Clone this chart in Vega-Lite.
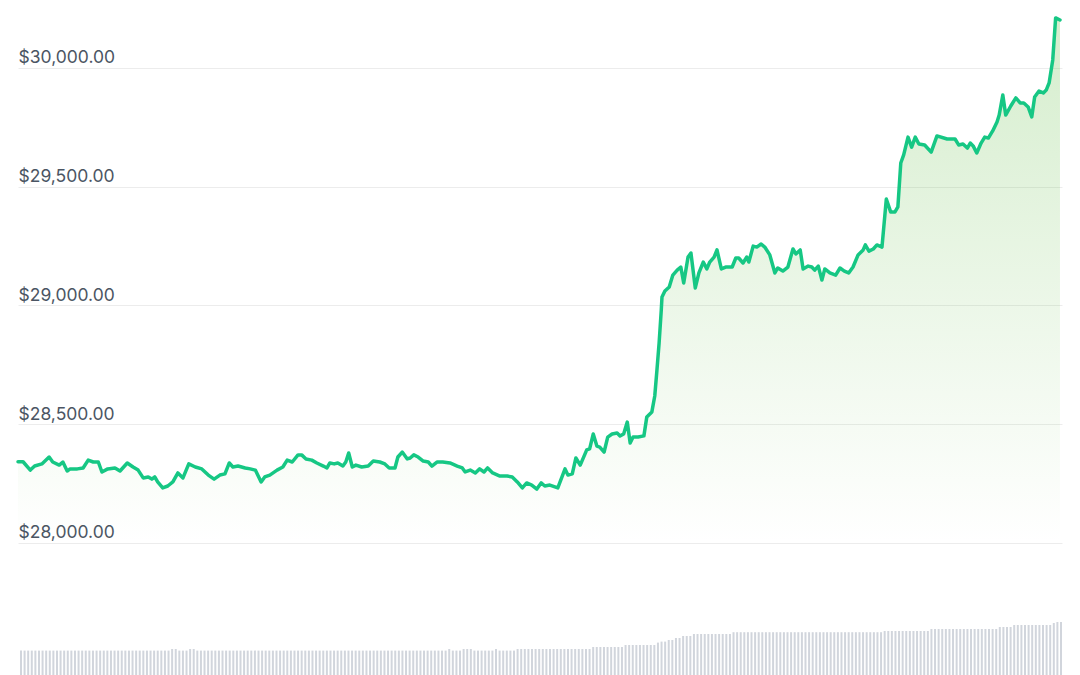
{
"$schema": "https://vega.github.io/schema/vega-lite/v6.json",
"width": 1044, "height": 675,
"autosize": {"type": "none"},
"padding": {"left": 18, "right": 18, "top": 0, "bottom": 0},
"background": "white",
"config": {"view": {"stroke": null}},
"datasets": {
"price": [
{"t":0,"p":28342},{"t":7,"p":28342},{"t":17,"p":28307},{"t":23,"p":28324},{"t":33,"p":28333},{"t":43,"p":28362},{"t":48,"p":28341},{"t":57,"p":28328},{"t":62,"p":28341},{"t":68,"p":28303},{"t":72,"p":28312},{"t":82,"p":28312},{"t":90,"p":28316},{"t":97,"p":28349},{"t":104,"p":28341},{"t":111,"p":28341},{"t":116,"p":28299},{"t":124,"p":28312},{"t":134,"p":28316},{"t":141,"p":28303},{"t":151,"p":28337},{"t":159,"p":28320},{"t":166,"p":28307},{"t":173,"p":28274},{"t":180,"p":28278},{"t":185,"p":28269},{"t":189,"p":28278},{"t":193,"p":28257},{"t":200,"p":28232},{"t":207,"p":28240},{"t":214,"p":28257},{"t":221,"p":28295},{"t":228,"p":28274},{"t":236,"p":28333},{"t":245,"p":28320},{"t":254,"p":28312},{"t":263,"p":28286},{"t":271,"p":28269},{"t":279,"p":28286},{"t":286,"p":28291},{"t":292,"p":28337},{"t":297,"p":28320},{"t":304,"p":28324},{"t":314,"p":28316},{"t":321,"p":28312},{"t":328,"p":28307},{"t":336,"p":28257},{"t":341,"p":28278},{"t":348,"p":28286},{"t":358,"p":28307},{"t":366,"p":28320},{"t":372,"p":28349},{"t":379,"p":28341},{"t":387,"p":28371},{"t":392,"p":28371},{"t":398,"p":28354},{"t":406,"p":28349},{"t":413,"p":28337},{"t":422,"p":28324},{"t":427,"p":28316},{"t":431,"p":28337},{"t":437,"p":28333},{"t":442,"p":28337},{"t":449,"p":28324},{"t":453,"p":28341},{"t":457,"p":28379},{"t":462,"p":28320},{"t":467,"p":28328},{"t":475,"p":28320},{"t":484,"p":28324},{"t":491,"p":28345},{"t":500,"p":28341},{"t":507,"p":28333},{"t":513,"p":28316},{"t":521,"p":28316},{"t":525,"p":28362},{"t":531,"p":28383},{"t":538,"p":28354},{"t":542,"p":28358},{"t":547,"p":28371},{"t":553,"p":28362},{"t":560,"p":28345},{"t":567,"p":28341},{"t":572,"p":28324},{"t":579,"p":28341},{"t":587,"p":28341},{"t":597,"p":28337},{"t":607,"p":28324},{"t":614,"p":28316},{"t":618,"p":28299},{"t":625,"p":28307},{"t":632,"p":28295},{"t":638,"p":28312},{"t":644,"p":28299},{"t":649,"p":28316},{"t":656,"p":28295},{"t":666,"p":28282},{"t":676,"p":28282},{"t":683,"p":28278},{"t":690,"p":28257},{"t":697,"p":28232},{"t":703,"p":28253},{"t":710,"p":28244},{"t":717,"p":28227},{"t":723,"p":28253},{"t":728,"p":28240},{"t":735,"p":28244},{"t":746,"p":28232},{"t":756,"p":28312},{"t":760,"p":28286},{"t":766,"p":28291},{"t":771,"p":28358},{"t":777,"p":28328},{"t":786,"p":28392},{"t":790,"p":28396},{"t":795,"p":28459},{"t":800,"p":28408},{"t":804,"p":28404},{"t":810,"p":28383},{"t":815,"p":28446},{"t":821,"p":28459},{"t":828,"p":28463},{"t":832,"p":28451},{"t":837,"p":28459},{"t":842,"p":28509},{"t":846,"p":28421},{"t":850,"p":28446},{"t":857,"p":28446},{"t":865,"p":28451},{"t":869,"p":28531},{"t":876,"p":28552},{"t":880,"p":28619},{"t":883,"p":28728},{"t":886,"p":28842},{"t":889,"p":28981},{"t":890,"p":29036},{"t":894,"p":29061},{"t":900,"p":29078},{"t":905,"p":29128},{"t":911,"p":29149},{"t":916,"p":29162},{"t":920,"p":29095},{"t":926,"p":29204},{"t":930,"p":29221},{"t":936,"p":29074},{"t":941,"p":29137},{"t":947,"p":29183},{"t":952,"p":29154},{"t":956,"p":29183},{"t":962,"p":29204},{"t":966,"p":29234},{"t":972,"p":29154},{"t":978,"p":29162},{"t":987,"p":29162},{"t":992,"p":29200},{"t":996,"p":29200},{"t":1002,"p":29179},{"t":1007,"p":29204},{"t":1010,"p":29183},{"t":1016,"p":29250},{"t":1021,"p":29246},{"t":1027,"p":29259},{"t":1032,"p":29246},{"t":1039,"p":29213},{"t":1046,"p":29137},{"t":1050,"p":29158},{"t":1057,"p":29145},{"t":1064,"p":29162},{"t":1071,"p":29238},{"t":1075,"p":29217},{"t":1081,"p":29234},{"t":1085,"p":29154},{"t":1092,"p":29166},{"t":1097,"p":29162},{"t":1101,"p":29149},{"t":1106,"p":29166},{"t":1111,"p":29107},{"t":1115,"p":29154},{"t":1122,"p":29137},{"t":1130,"p":29128},{"t":1136,"p":29158},{"t":1142,"p":29145},{"t":1148,"p":29137},{"t":1154,"p":29162},{"t":1161,"p":29213},{"t":1168,"p":29234},{"t":1171,"p":29255},{"t":1176,"p":29229},{"t":1182,"p":29238},{"t":1187,"p":29255},{"t":1194,"p":29246},{"t":1200,"p":29448},{"t":1206,"p":29394},{"t":1212,"p":29394},{"t":1216,"p":29415},{"t":1220,"p":29600},{"t":1224,"p":29634},{"t":1230,"p":29709},{"t":1235,"p":29667},{"t":1240,"p":29709},{"t":1245,"p":29680},{"t":1253,"p":29676},{"t":1262,"p":29646},{"t":1270,"p":29714},{"t":1284,"p":29701},{"t":1295,"p":29701},{"t":1300,"p":29676},{"t":1306,"p":29680},{"t":1312,"p":29663},{"t":1316,"p":29684},{"t":1320,"p":29672},{"t":1325,"p":29642},{"t":1331,"p":29684},{"t":1336,"p":29709},{"t":1341,"p":29705},{"t":1347,"p":29735},{"t":1353,"p":29773},{"t":1356,"p":29802},{"t":1361,"p":29886},{"t":1365,"p":29802},{"t":1372,"p":29840},{"t":1379,"p":29874},{"t":1385,"p":29853},{"t":1390,"p":29853},{"t":1396,"p":29836},{"t":1401,"p":29794},{"t":1405,"p":29878},{"t":1411,"p":29903},{"t":1417,"p":29895},{"t":1421,"p":29907},{"t":1425,"p":29937},{"t":1430,"p":30034},{"t":1434,"p":30211},{"t":1440,"p":30202}
],
"volume": [
{"i":0,"v":12.2},{"i":1,"v":12.2},{"i":2,"v":12.2},{"i":3,"v":12.2},{"i":4,"v":12.2},{"i":5,"v":12.2},{"i":6,"v":12.2},{"i":7,"v":12.2},{"i":8,"v":12.2},{"i":9,"v":12.2},
{"i":10,"v":12.2},{"i":11,"v":12.2},{"i":12,"v":12.2},{"i":13,"v":12.2},{"i":14,"v":12.2},{"i":15,"v":12.2},{"i":16,"v":12.2},{"i":17,"v":12.2},{"i":18,"v":12.2},{"i":19,"v":12.2},
{"i":20,"v":12.2},{"i":21,"v":12.2},{"i":22,"v":12.2},{"i":23,"v":12.2},{"i":24,"v":12.2},{"i":25,"v":12.2},{"i":26,"v":12.2},{"i":27,"v":12.2},{"i":28,"v":12.2},{"i":29,"v":12.2},
{"i":30,"v":12.2},{"i":31,"v":12.2},{"i":32,"v":12.2},{"i":33,"v":12.2},{"i":34,"v":12.2},{"i":35,"v":12.2},{"i":36,"v":12.2},{"i":37,"v":12.2},{"i":38,"v":12.2},{"i":39,"v":12.2},
{"i":40,"v":12.2},{"i":41,"v":12.2},{"i":42,"v":13},{"i":43,"v":13},{"i":44,"v":12.2},{"i":45,"v":12.2},{"i":46,"v":12.2},{"i":47,"v":13},{"i":48,"v":13},{"i":49,"v":12.2},
{"i":50,"v":12.2},{"i":51,"v":12.2},{"i":52,"v":12.2},{"i":53,"v":12.2},{"i":54,"v":12.2},{"i":55,"v":12.2},{"i":56,"v":12.2},{"i":57,"v":12.2},{"i":58,"v":12.2},{"i":59,"v":12.2},
{"i":60,"v":12.2},{"i":61,"v":12.2},{"i":62,"v":12.2},{"i":63,"v":12.2},{"i":64,"v":12.2},{"i":65,"v":12.2},{"i":66,"v":12.2},{"i":67,"v":12.2},{"i":68,"v":12.2},{"i":69,"v":12.2},
{"i":70,"v":12.2},{"i":71,"v":12.2},{"i":72,"v":12.2},{"i":73,"v":12.2},{"i":74,"v":12.2},{"i":75,"v":12.2},{"i":76,"v":12.2},{"i":77,"v":12.2},{"i":78,"v":12.2},{"i":79,"v":12.2},
{"i":80,"v":12.2},{"i":81,"v":12.2},{"i":82,"v":12.2},{"i":83,"v":12.2},{"i":84,"v":12.2},{"i":85,"v":12.2},{"i":86,"v":12.2},{"i":87,"v":12.2},{"i":88,"v":12.2},{"i":89,"v":12.2},
{"i":90,"v":12.2},{"i":91,"v":12.2},{"i":92,"v":12.2},{"i":93,"v":12.2},{"i":94,"v":12.2},{"i":95,"v":12.2},{"i":96,"v":12.2},{"i":97,"v":12.2},{"i":98,"v":12.2},{"i":99,"v":12.2},
{"i":100,"v":12.2},{"i":101,"v":12.2},{"i":102,"v":12.2},{"i":103,"v":12.2},{"i":104,"v":12.2},{"i":105,"v":12.2},{"i":106,"v":12.2},{"i":107,"v":12.2},{"i":108,"v":12.2},{"i":109,"v":12.2},
{"i":110,"v":12.2},{"i":111,"v":12.2},{"i":112,"v":12.2},{"i":113,"v":12.2},{"i":114,"v":12.2},{"i":115,"v":12.2},{"i":116,"v":12.2},{"i":117,"v":12.2},{"i":118,"v":12.2},{"i":119,"v":13},
{"i":120,"v":12.2},{"i":121,"v":12.2},{"i":122,"v":12.2},{"i":123,"v":13},{"i":124,"v":13},{"i":125,"v":13},{"i":126,"v":12.2},{"i":127,"v":12.2},{"i":128,"v":12.2},{"i":129,"v":12.2},
{"i":130,"v":12.2},{"i":131,"v":12.2},{"i":132,"v":13},{"i":133,"v":12.2},{"i":134,"v":12.2},{"i":135,"v":12.2},{"i":136,"v":12.2},{"i":137,"v":12.2},{"i":138,"v":13},{"i":139,"v":13},
{"i":140,"v":13},{"i":141,"v":13},{"i":142,"v":13},{"i":143,"v":13},{"i":144,"v":13},{"i":145,"v":13},{"i":146,"v":13},{"i":147,"v":13},{"i":148,"v":13},{"i":149,"v":13},
{"i":150,"v":13},{"i":151,"v":13},{"i":152,"v":13},{"i":153,"v":13},{"i":154,"v":13},{"i":155,"v":13},{"i":156,"v":13},{"i":157,"v":13},{"i":158,"v":13},{"i":159,"v":14},
{"i":160,"v":14},{"i":161,"v":14},{"i":162,"v":14},{"i":163,"v":14},{"i":164,"v":14},{"i":165,"v":14},{"i":166,"v":14},{"i":167,"v":14},{"i":168,"v":15},{"i":169,"v":15},
{"i":170,"v":15},{"i":171,"v":15},{"i":172,"v":15},{"i":173,"v":15},{"i":174,"v":15},{"i":175,"v":15},{"i":176,"v":15},{"i":177,"v":16.2},{"i":178,"v":16.7},{"i":179,"v":16.7},
{"i":180,"v":17.5},{"i":181,"v":17.5},{"i":182,"v":18.5},{"i":183,"v":18.5},{"i":184,"v":19.5},{"i":185,"v":19.5},{"i":186,"v":19.5},{"i":187,"v":20.5},{"i":188,"v":20.5},{"i":189,"v":20.5},
{"i":190,"v":20.5},{"i":191,"v":20.5},{"i":192,"v":20.5},{"i":193,"v":20.5},{"i":194,"v":20.5},{"i":195,"v":20.5},{"i":196,"v":20.5},{"i":197,"v":20.5},{"i":198,"v":21.4},{"i":199,"v":21.4},
{"i":200,"v":21.4},{"i":201,"v":21.4},{"i":202,"v":21.4},{"i":203,"v":21.4},{"i":204,"v":21.4},{"i":205,"v":21.4},{"i":206,"v":21.4},{"i":207,"v":21.4},{"i":208,"v":21.4},{"i":209,"v":21.4},
{"i":210,"v":21.4},{"i":211,"v":21.4},{"i":212,"v":21.4},{"i":213,"v":21.4},{"i":214,"v":21.4},{"i":215,"v":21.4},{"i":216,"v":21.4},{"i":217,"v":21.4},{"i":218,"v":21.4},{"i":219,"v":21.4},
{"i":220,"v":21.4},{"i":221,"v":21.4},{"i":222,"v":21.4},{"i":223,"v":21.4},{"i":224,"v":21.4},{"i":225,"v":21.4},{"i":226,"v":21.4},{"i":227,"v":21.4},{"i":228,"v":21.4},{"i":229,"v":21.4},
{"i":230,"v":21.4},{"i":231,"v":21.4},{"i":232,"v":21.4},{"i":233,"v":21.4},{"i":234,"v":21.4},{"i":235,"v":21.4},{"i":236,"v":21.4},{"i":237,"v":21.4},{"i":238,"v":21.4},{"i":239,"v":21.4},
{"i":240,"v":22},{"i":241,"v":22},{"i":242,"v":22},{"i":243,"v":22},{"i":244,"v":22},{"i":245,"v":22},{"i":246,"v":22},{"i":247,"v":22},{"i":248,"v":22},{"i":249,"v":22},
{"i":250,"v":22},{"i":251,"v":22},{"i":252,"v":22},{"i":253,"v":23},{"i":254,"v":23},{"i":255,"v":23},{"i":256,"v":23},{"i":257,"v":23},{"i":258,"v":23},{"i":259,"v":23},
{"i":260,"v":23},{"i":261,"v":23},{"i":262,"v":23},{"i":263,"v":23},{"i":264,"v":23},{"i":265,"v":23},{"i":266,"v":23},{"i":267,"v":23},{"i":268,"v":23},{"i":269,"v":23},
{"i":270,"v":23},{"i":271,"v":23},{"i":272,"v":24},{"i":273,"v":24},{"i":274,"v":24},{"i":275,"v":24},{"i":276,"v":25},{"i":277,"v":25},{"i":278,"v":25},{"i":279,"v":25},
{"i":280,"v":25},{"i":281,"v":25},{"i":282,"v":25},{"i":283,"v":25},{"i":284,"v":25},{"i":285,"v":25},{"i":286,"v":25},{"i":287,"v":26},{"i":288,"v":26.5},{"i":289,"v":26.5}
]
},
"layer": [
{
"data": {"name": "volume"},
"mark": {"type": "bar", "width": 2, "color": "#d1d5dc"},
"encoding": {
"x": {"field": "i", "type": "quantitative", "scale": {"domain": [-0.83, 289.28], "nice": false, "zero": false, "padding": 0}, "axis": null},
"y": {"field": "v", "type": "quantitative", "scale": {"domain": [0, 337.5], "nice": false, "zero": true}, "axis": null}
}
},
{
"data": {"name": "price"},
"encoding": {
"x": {"field": "t", "type": "quantitative", "scale": {"domain": [0, 1442.8], "nice": false, "zero": false}, "axis": null},
"y": {"field": "p", "type": "quantitative", "scale": {"domain": [27444.2, 30286.3], "nice": false, "zero": false},
"axis": {"orient": "left", "title": null, "values": [28000, 28500, 29000, 29500, 30000], "format": "$,.2f", "grid": true, "gridColor": "#ececec", "gridWidth": 1, "domain": false, "ticks": false, "tickSize": 0, "labelAlign": "left", "labelPadding": 0, "labelBaseline": "alphabetic", "labelOffset": -5, "labelFont": "Inter", "labelFontSize": 17.5, "labelColor": "#4b5563", "labelBound": false, "labelOverlap": false}}
},
"layer": [
{
"mark": {"type": "area", "interpolate": "linear",
"color": {"gradient": "linear", "x1": 0, "y1": 0, "x2": 0, "y2": 1, "stops": [{"offset": 0, "color": "rgba(100,190,70,0.27)"}, {"offset": 1, "color": "rgba(100,190,70,0.0)"}]}},
"encoding": {"y2": {"datum": 28000}}
},
{
"mark": {"type": "line", "color": "#16c784", "strokeWidth": 3.5, "strokeJoin": "round", "strokeCap": "round"},
"encoding": {}
}
]
}
],
"resolve": {"scale": {"x": "independent", "y": "independent"}}
}
